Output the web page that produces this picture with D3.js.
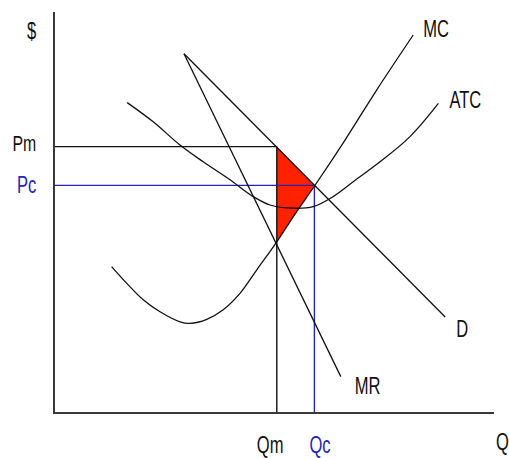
<!DOCTYPE html>
<html><head><meta charset="utf-8">
<script src="https://cdn.jsdelivr.net/npm/d3@7"></script>
<style>html,body{margin:0;padding:0;background:#fff;} svg{display:block;}</style>
</head><body>
<svg id="c" width="509" height="458"></svg>
<script>
// ---- data (Q, $) ----
const demand = [[3.25, 8.98], [9.78, 2.40]];
const marginalRevenue = [[3.25, 8.98], [7.17, 0.91]];
const marginalCost = [[1.44,3.66],[1.82,3.24],[2.23,2.83],[2.65,2.53],[3.15,2.28],[3.40,2.24],[3.82,2.34],[4.23,2.58],[4.65,2.99],[5.07,3.58],[5.57,4.28],[6.03,4.98],[6.53,5.70],[7.28,6.83],[8.07,8.08],[8.98,9.45]];
const averageTotalCost = [[1.83,7.76],[2.48,7.28],[3.15,6.70],[3.73,6.28],[4.40,5.83],[4.98,5.41],[5.40,5.20],[5.98,5.12],[6.48,5.16],[6.98,5.41],[7.48,5.78],[8.15,6.28],[8.90,6.91],[9.61,7.74]];
const quantityLabels = ["Qm", "Qc"];
const quantities = [5.57, 6.51];
const priceLabels = ["Pm", "Pc"];
const prices = [6.66, 5.69];
const mcAtQm = 4.28;
const curveLabels = ["MC", "ATC", "D", "MR"];
const axisLabels = ["$", "Q"];

const svg = d3.select("#c");
const x = d3.scaleLinear().domain([0, 11]).range([54, 494]);
const y = d3.scaleLinear().domain([0, 10]).range([413, 13]);
const blue = "#2424b8";
const font = "'Liberation Sans', Arial, sans-serif";

// deadweight-loss triangle
const tri = [[quantities[0], prices[0]], [quantities[1], prices[1]], [quantities[0], mcAtQm]];
svg.append("path")
  .attr("d", d3.line().x(d => x(d[0])).y(d => y(d[1]))(tri) + "Z")
  .attr("fill", "#ff2200").attr("stroke", "none");

// guide lines
const colors = ["#111", blue];
quantities.forEach((q, i) => {
  svg.append("line").attr("x1", x(0)).attr("x2", x(q)).attr("y1", y(prices[i])).attr("y2", y(prices[i]))
    .attr("stroke", colors[i]).attr("stroke-width", 1.4);
  svg.append("line").attr("x1", x(q)).attr("x2", x(q)).attr("y1", y(prices[i])).attr("y2", y(0))
    .attr("stroke", colors[i]).attr("stroke-width", 1.4);
});

// curves
const straight = d3.line().x(d => x(d[0])).y(d => y(d[1]));
const smooth = d3.line().x(d => x(d[0])).y(d => y(d[1])).curve(d3.curveCatmullRom.alpha(0.5));
[[demand, straight], [marginalRevenue, straight], [marginalCost, smooth], [averageTotalCost, smooth]].forEach(([data, gen]) => {
  svg.append("path").attr("d", gen(data)).attr("fill", "none").attr("stroke", "#111").attr("stroke-width", 1.3);
});

// axes
svg.append("path")
  .attr("d", `M${x(0)},${y(10) - 1}V${y(0)}H${x(11)}`)
  .attr("fill", "none").attr("stroke", "#3a3a3a").attr("stroke-width", 2);

// text helper (condensed look)
function label(t, px, py, color, size) {
  svg.append("text")
    .attr("transform", `translate(${px},${py}) scale(0.72,1)`)
    .attr("font-family", font).attr("font-size", size || 23)
    .attr("fill", color || "#111").text(t);
}
const mcEnd = marginalCost[marginalCost.length - 1];
const atcEnd = averageTotalCost[averageTotalCost.length - 1];
label(curveLabels[0], x(mcEnd[0]) + 10, y(mcEnd[1]) + 2);
label(curveLabels[1], x(atcEnd[0]) + 11, y(atcEnd[1]) + 5);
label(curveLabels[2], x(demand[1][0]) + 11, y(demand[1][1]) + 20);
label(curveLabels[3], x(marginalRevenue[1][0]) + 14, y(marginalRevenue[1][1]) + 17);
priceLabels.forEach((t, i) => label(t, i === 0 ? 12.5 : 17, y(prices[i]) + (i === 0 ? 4.5 : 8), colors[i], i === 0 ? 22 : 23));
quantityLabels.forEach((t, i) => label(t, x(quantities[i]) - (i === 0 ? 20 : 5), 453, colors[i]));
label(axisLabels[0], 27, 39);
label(axisLabels[1], 496, 450);
</script>
</body></html>
